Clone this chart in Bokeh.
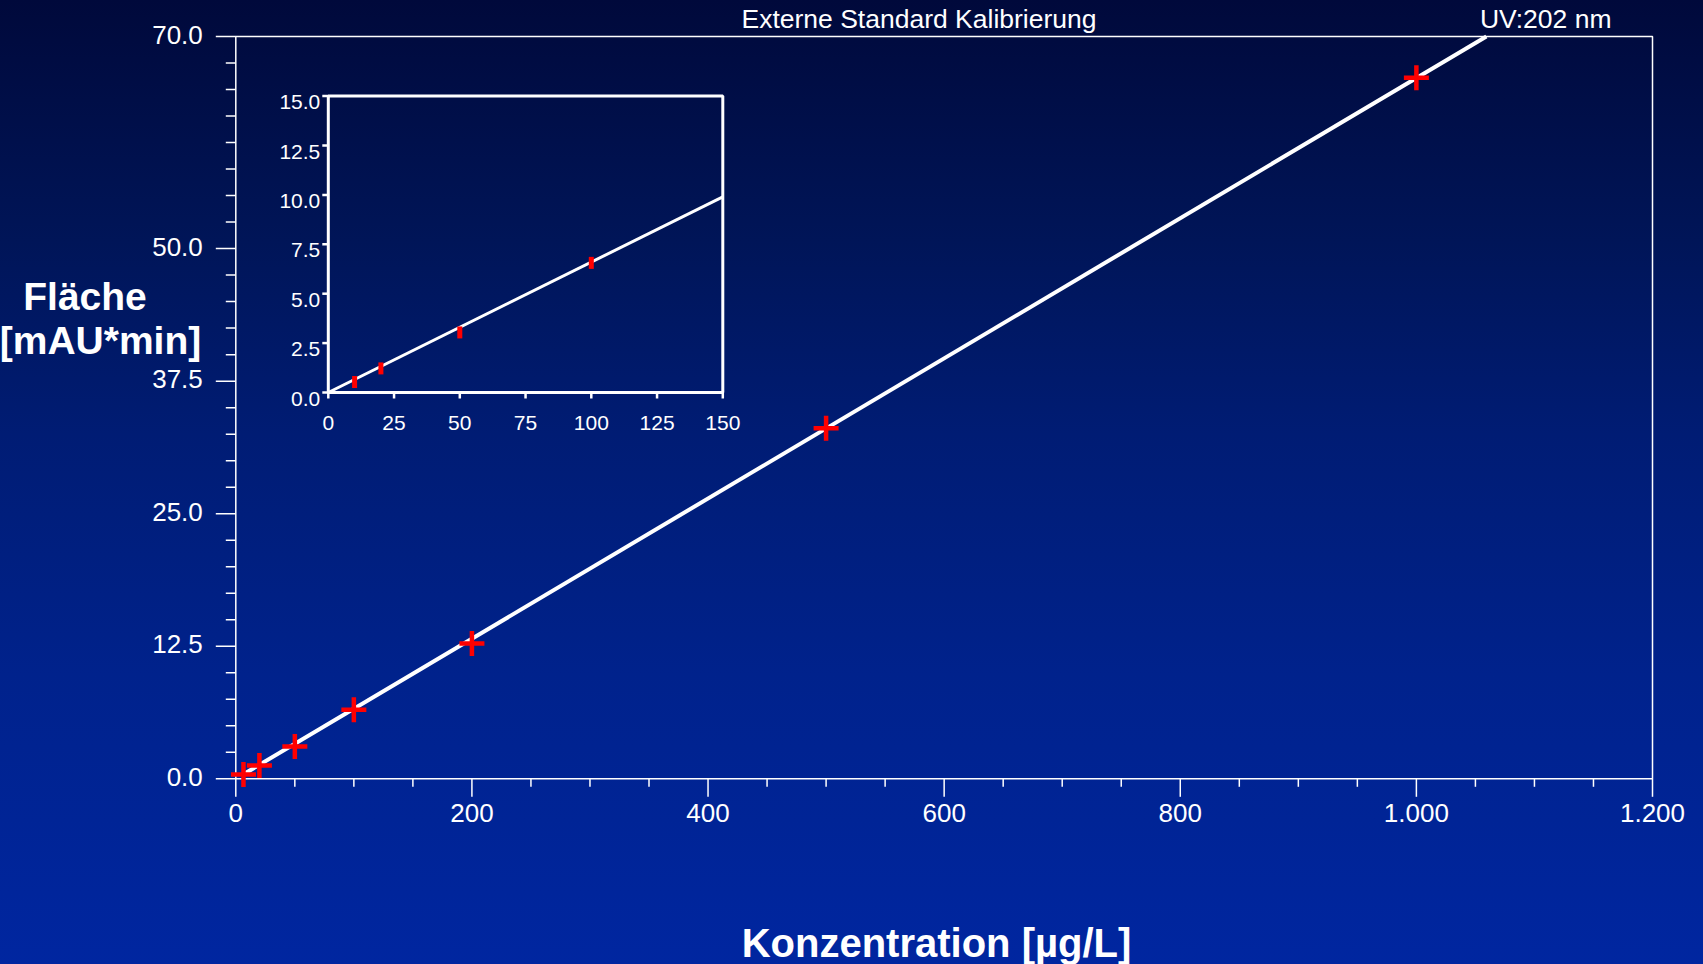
import numpy as np
from bokeh.plotting import figure
from bokeh.models import Range1d, Label, GlobalInlineStyleSheet
from bokeh.core.properties import value
from bokeh.embed import file_html
from bokeh.resources import INLINE

# ---------------- data ----------------
conc_main = [6.5, 20, 50, 100, 200, 500, 1000]
area_main = [0.40, 1.25, 3.04, 6.52, 12.76, 33.05, 66.10]
calib_main_x = [5.0, 1059.3]
calib_main_y = [0.33, 70.0]

conc_inset = [10, 20, 50, 100]
area_inset = [0.53, 1.22, 3.04, 6.56]
calib_inset_x = [0.0, 150.0]
calib_inset_y = [0.0, 9.9]

x_ticks = [0, 200, 400, 600, 800, 1000, 1200]
x_tick_labels = ["0", "200", "400", "600", "800", "1.000", "1.200"]
x_minor = [50, 100, 150, 250, 300, 350, 450, 500, 550, 650, 700, 750,
           850, 900, 950, 1050, 1100, 1150]
y_ticks = [0, 12.5, 25, 37.5, 50, 70]
y_tick_labels = ["0.0", "12.5", "25.0", "37.5", "50.0", "70.0"]
y_minor = [2.5, 5, 7.5, 10, 15, 17.5, 20, 22.5, 27.5, 30, 32.5, 35,
           40, 42.5, 45, 47.5, 52.5, 55, 57.5, 60, 62.5, 65, 67.5]

inset_x_ticks = [0, 25, 50, 75, 100, 125, 150]
inset_x_labels = ["0", "25", "50", "75", "100", "125", "150"]
inset_y_ticks = [0, 2.5, 5, 7.5, 10, 12.5, 15]
inset_y_labels = ["0.0", "2.5", "5.0", "7.5", "10.0", "12.5", "15.0"]

title_text = "Externe Standard Kalibrierung"
detector_text = "UV:202 nm"
y_label_1 = "Fläche"
y_label_2 = "[mAU*min]"
x_label = "Konzentration [µg/L]"

# ---------------- layout (canvas pixels) ----------------
W, H = 1703, 964
FL, FR, FT, FB = 235.3, 1652.0, 36.0, 778.3      # main plot box
IL, IR, IT, IB = 327.8, 722.3, 95.6, 392.0       # inset box
XMAX, YMAX = x_ticks[-1], y_ticks[-1]
IXMAX, IYMAX = inset_x_ticks[-1], inset_y_ticks[-1]
FONT = "Liberation Sans"
WHITE = "white"
RED = "#ff0000"

def dx(px):
    return (px - FL) / (FR - FL) * XMAX

def dy(py):
    return (FB - py) / (FB - FT) * YMAX

grad = ("html { min-height: 100%; background: linear-gradient(to bottom, "
        "#00093b 0%, #001558 25%, #001c74 45%, #00228c 70%, #0026a0 100%) fixed; }")

p = figure(width=W, height=H, output_backend="svg", toolbar_location=None,
           x_range=Range1d(dx(0), dx(W)), y_range=Range1d(dy(H), dy(0)),
           x_axis_location=None, y_axis_location=None,
           min_border=0, min_border_left=0, min_border_right=0,
           min_border_top=0, min_border_bottom=0)
p.stylesheets = [GlobalInlineStyleSheet(css=grad)]
p.background_fill_color = None
p.border_fill_color = None
p.outline_line_color = None
p.xgrid.visible = False
p.ygrid.visible = False

# ---------------- main axes (drawn through the data scales) ----------------
p.quad(left=x_ticks[0], right=x_ticks[-1], bottom=y_ticks[0], top=y_ticks[-1],
       fill_color=None, line_color=WHITE, line_width=1.5)
p.ray(x=[0] * len(y_ticks), y=y_ticks, length=20, length_units="screen",
      angle=np.pi, line_color=WHITE, line_width=1.5)
p.ray(x=[0] * len(y_minor), y=y_minor, length=10, length_units="screen",
      angle=np.pi, line_color=WHITE, line_width=1.5)
p.ray(x=x_ticks, y=[0] * len(x_ticks), length=18, length_units="screen",
      angle=-np.pi / 2, line_color=WHITE, line_width=1.5)
p.ray(x=x_minor, y=[0] * len(x_minor), length=8, length_units="screen",
      angle=-np.pi / 2, line_color=WHITE, line_width=1.5)
p.text(x=[0] * len(y_ticks), y=y_ticks, text=y_tick_labels,
       text_align="right", text_baseline="middle", x_offset=-33, y_offset=-2,
       text_color=WHITE, text_font=value(FONT), text_font_size="26px")
p.text(x=x_ticks, y=[0] * len(x_ticks), text=x_tick_labels,
       text_align="center", text_baseline="middle", y_offset=34,
       text_color=WHITE, text_font=value(FONT), text_font_size="26px")

# main calibration line and points
p.line(calib_main_x, calib_main_y, line_color=WHITE, line_width=4)
p.scatter(conc_main, area_main, marker="cross", size=25, line_color=RED,
          line_width=4.5)

# ---------------- inset (own ranges) ----------------
p.extra_x_ranges = {"ix": Range1d((0 - IL) / (IR - IL) * IXMAX,
                                  (W - IL) / (IR - IL) * IXMAX)}
p.extra_y_ranges = {"iy": Range1d((IB - H) / (IB - IT) * IYMAX,
                                  (IB - 0) / (IB - IT) * IYMAX)}
kw = dict(x_range_name="ix", y_range_name="iy")

p.quad(left=inset_x_ticks[0], right=inset_x_ticks[-1],
       bottom=inset_y_ticks[0], top=inset_y_ticks[-1],
       fill_color=None, line_color=WHITE, line_width=3, **kw)
p.ray(x=inset_x_ticks, y=[inset_y_ticks[0]] * len(inset_x_ticks), length=6,
      length_units="screen", angle=-np.pi / 2, line_color=WHITE,
      line_width=2.5, **kw)
p.ray(x=[inset_x_ticks[0]] * len(inset_y_ticks), y=inset_y_ticks, length=6,
      length_units="screen", angle=np.pi, line_color=WHITE,
      line_width=2.5, **kw)
p.text(x=inset_x_ticks, y=[inset_y_ticks[0]] * len(inset_x_ticks),
       text=inset_x_labels, text_align="center", text_baseline="middle",
       y_offset=30, text_color=WHITE, text_font=value(FONT),
       text_font_size="21px", **kw)
p.text(x=[inset_x_ticks[0]] * len(inset_y_ticks), y=inset_y_ticks,
       text=inset_y_labels, text_align="right", text_baseline="middle",
       x_offset=-8, y_offset=6, text_color=WHITE, text_font=value(FONT),
       text_font_size="21px", **kw)
p.line(calib_inset_x, calib_inset_y, line_color=WHITE, line_width=3, **kw)
p.rect(x=conc_inset, y=area_inset, width=5, height=12, width_units="screen",
       height_units="screen", fill_color=RED, line_color=None, **kw)

# ---------------- texts ----------------
def add_label(text, px, py, size, align, bold=False):
    p.add_layout(Label(x=dx(px), y=dy(py), text=text, text_align=align,
                       text_baseline="middle", text_color=WHITE,
                       text_font=FONT, text_font_size=size,
                       text_font_style="bold" if bold else "normal"))

add_label(title_text, 918.5, 18.5, "26.5px", "center")
add_label(detector_text, 1611, 18.5, "26.5px", "right")
add_label(y_label_1, 84.5, 296, "39px", "center", bold=True)
add_label(y_label_2, 100, 340, "39px", "center", bold=True)
add_label(x_label, 936, 942, "40px", "center", bold=True)

open("out.html", "w").write(file_html(p, INLINE))
